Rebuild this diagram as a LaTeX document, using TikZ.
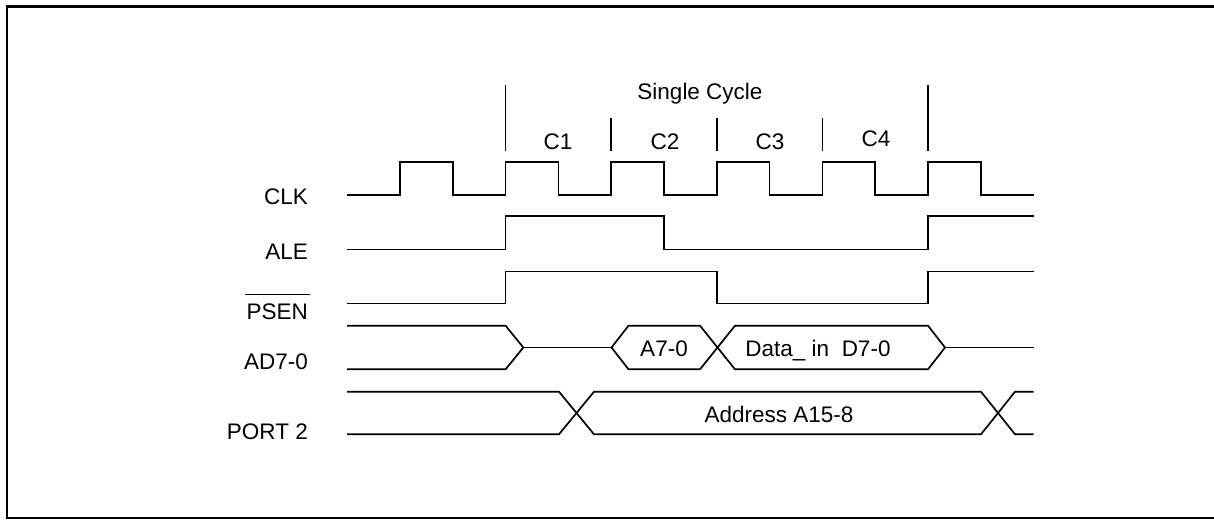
\documentclass[tikz,border=0pt]{standalone}
\usepackage{fontspec}
\setmainfont{Liberation Sans}
\begin{document}
\begin{tikzpicture}[x=1pt,y=-1pt,
  sig/.style={line width=1.7pt, line join=miter, line cap=butt},
  frame/.style={line width=2.4pt},
  marker/.style={line width=1.7pt},
  lbl/.style={font=\fontsize{22.5}{26}\selectfont, inner sep=0pt, anchor=base},
  side/.style={lbl, anchor=base east}]
\useasboundingbox (0,0) rectangle (1214,519);
% frame
\draw[frame] (1225,6.5) -- (7,6.5) -- (7,518) -- (1225,518);
% cycle markers
\coordinate (m0t) at (505.6,85);  \coordinate (m0b) at (505.6,151);
\coordinate (m4t) at (928,85);    \coordinate (m4b) at (928,151);
\coordinate (m1t) at (611.2,118); \coordinate (m1b) at (611.2,151);
\coordinate (m2t) at (716.8,118); \coordinate (m2b) at (716.8,151);
\coordinate (m3t) at (822.4,118); \coordinate (m3b) at (822.4,151);
\draw[marker] (m0t) -- (m0b);
\draw[marker] (m4t) -- (m4b);
\draw[marker] (m1t) -- (m1b);
\draw[marker] (m2t) -- (m2b);
\draw[marker] (m3t) -- (m3b);
% top labels
\node[lbl] (single) at (700,99.5) {Single Cycle};
\node[lbl] (c1) at (558,149.3) {C1};
\node[lbl] (c2) at (665,149.3) {C2};
\node[lbl] (c3) at (770,149.3) {C3};
\node[lbl] (c4) at (876,146.7) {C4};
% side labels
\node[side] (clk) at (308,204) {CLK};
\node[side] (ale) at (308,259.3) {ALE};
\node[side] (psen) at (308,319.3) {PSEN};
\draw[line width=1.5pt] ([xshift=-1pt,yshift=9pt]psen.north west) -- ([xshift=2pt,yshift=9pt]psen.north east);
\node[side] (ad) at (308,369.3) {AD7-0};
\node[side] (p2) at (308,439.3) {PORT 2};
% CLK
\draw[sig] (347.2,195) -- (400,195) -- (400,162) -- (452.8,162) -- (452.8,195)
  -- (505.6,195) -- (505.6,162) -- (558.4,162) -- (558.4,195)
  -- (611.2,195) -- (611.2,162) -- (664,162) -- (664,195)
  -- (716.8,195) -- (716.8,162) -- (769.6,162) -- (769.6,195)
  -- (822.4,195) -- (822.4,162) -- (875.2,162) -- (875.2,195)
  -- (928,195) -- (928,162) -- (980.8,162) -- (980.8,195) -- (1033.6,195);
% ALE
\draw[sig] (347.2,249.5) -- (505.6,249.5) -- (505.6,216) -- (664,216) -- (664,249.5)
  -- (928,249.5) -- (928,216) -- (1033.6,216);
% PSEN
\draw[sig] (347.2,303.5) -- (505.6,303.5) -- (505.6,271.5) -- (716.8,271.5) -- (716.8,303.5)
  -- (928,303.5) -- (928,271.5) -- (1033.6,271.5);
% AD7-0
\draw[sig] (347.2,325.7) -- (505.6,325.7) -- (523.3,347.5) -- (505.6,369.3) -- (347.2,369.3);
\draw[sig] (523.3,347.5) -- (611.5,347.5);
\draw[sig] (700,369.3) -- (628.5,369.3) -- (611.5,347.5) -- (628.5,325.7) -- (700,325.7) -- (735,369.3)
  -- (928,369.3) -- (945,347.5) -- (928,325.7) -- (735,325.7) -- (700,369.3);
\draw[sig] (945,347.5) -- (1033.6,347.5);
\node[lbl] (a70) at (664,356) {A7-0};
\node[lbl] (data) at (818,356) {Data\_ in\ \ D7-0};
% PORT 2
\draw[sig] (347.2,391.7) -- (559,391.7) -- (594,434.3) -- (981,434.3) -- (1015,391.7) -- (1033.6,391.7);
\draw[sig] (347.2,434.3) -- (559,434.3) -- (594,391.7) -- (981,391.7) -- (1015,434.3) -- (1033.6,434.3);
\node[lbl] (addr) at (779,422.3) {Address A15-8};
\end{tikzpicture}
\end{document}
